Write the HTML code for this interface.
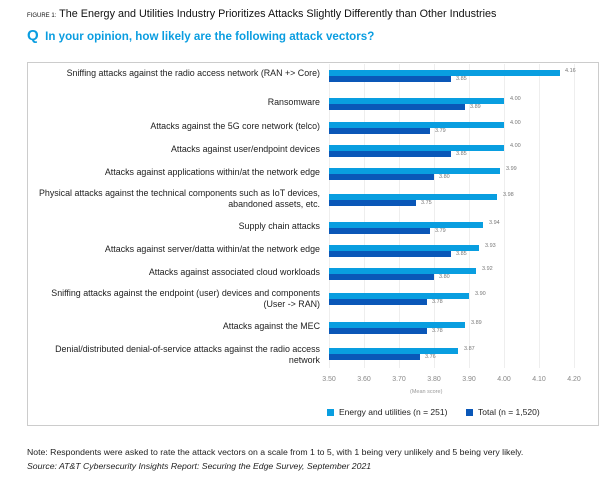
<!DOCTYPE html>
<html><head><style>
body{margin:0;width:616px;height:480px;background:#fff;font-family:"Liberation Sans",sans-serif;position:relative;overflow:hidden}
.a{position:absolute;white-space:nowrap}
.l{position:absolute;right:296px;text-align:right;font-size:8.9px;color:#222;line-height:11px}
.b1{position:absolute;left:329px;height:6px;background:#099ee0}
.b2{position:absolute;left:329px;height:6px;background:#0a57b8}
.v{position:absolute;font-size:5.5px;color:#777}
.g{position:absolute;top:64px;height:304px;width:1px;background:#eee}
.t{position:absolute;top:376px;font-size:7px;color:#888;width:30px;margin-left:-15px;text-align:center}
</style></head><body>
<div class="a" style="left:27px;top:8px;font-size:10.8px;color:#111"><span style="font-size:6px">FIGURE 1:</span> The Energy and Utilities Industry Prioritizes Attacks Slightly Differently than Other Industries</div>
<div class="a" style="left:27px;top:27px;font-size:11.6px;color:#0a9de0;font-weight:bold"><span style="font-size:15px">Q</span>&nbsp; In your opinion, how likely are the following attack vectors?</div>
<div class="a" style="left:27px;top:62px;width:570px;height:362px;border:1px solid #ccc"></div>
<div class="g" style="left:329px"></div><div class="g" style="left:364px"></div><div class="g" style="left:399px"></div><div class="g" style="left:434px"></div><div class="g" style="left:469px"></div><div class="g" style="left:504px"></div><div class="g" style="left:539px"></div><div class="g" style="left:574px"></div>

<div class="l" style="top:68px">Sniffing attacks against the radio access network (RAN +&gt; Core)</div>
<div class="b1" style="top:70px;width:231px"></div><div class="b2" style="top:76px;width:122px"></div>
<div class="v" style="left:565px;top:68px">4.16</div><div class="v" style="left:456px;top:76px">3.85</div>

<div class="l" style="top:97px">Ransomware</div>
<div class="b1" style="top:98px;width:175px"></div><div class="b2" style="top:104px;width:136px"></div>
<div class="v" style="left:510px;top:96px">4.00</div><div class="v" style="left:470px;top:104px">3.89</div>

<div class="l" style="top:121px">Attacks against the 5G core network (telco)</div>
<div class="b1" style="top:122px;width:175px"></div><div class="b2" style="top:128px;width:101px"></div>
<div class="v" style="left:510px;top:120px">4.00</div><div class="v" style="left:435px;top:128px">3.79</div>

<div class="l" style="top:144px">Attacks against user/endpoint devices</div>
<div class="b1" style="top:145px;width:175px"></div><div class="b2" style="top:151px;width:122px"></div>
<div class="v" style="left:510px;top:143px">4.00</div><div class="v" style="left:456px;top:151px">3.85</div>

<div class="l" style="top:167px">Attacks against applications within/at the network edge</div>
<div class="b1" style="top:168px;width:171px"></div><div class="b2" style="top:174px;width:105px"></div>
<div class="v" style="left:506px;top:166px">3.99</div><div class="v" style="left:439px;top:174px">3.80</div>

<div class="l" style="top:188px">Physical attacks against the technical components such as IoT devices,<br>abandoned assets, etc.</div>
<div class="b1" style="top:194px;width:168px"></div><div class="b2" style="top:200px;width:87px"></div>
<div class="v" style="left:503px;top:192px">3.98</div><div class="v" style="left:421px;top:200px">3.75</div>

<div class="l" style="top:221px">Supply chain attacks</div>
<div class="b1" style="top:222px;width:154px"></div><div class="b2" style="top:228px;width:101px"></div>
<div class="v" style="left:489px;top:220px">3.94</div><div class="v" style="left:435px;top:228px">3.79</div>

<div class="l" style="top:244px">Attacks against server/datta within/at the network edge</div>
<div class="b1" style="top:245px;width:150px"></div><div class="b2" style="top:251px;width:122px"></div>
<div class="v" style="left:485px;top:243px">3.93</div><div class="v" style="left:456px;top:251px">3.85</div>

<div class="l" style="top:267px">Attacks against associated cloud workloads</div>
<div class="b1" style="top:268px;width:147px"></div><div class="b2" style="top:274px;width:105px"></div>
<div class="v" style="left:482px;top:266px">3.92</div><div class="v" style="left:439px;top:274px">3.80</div>

<div class="l" style="top:288px">Sniffing attacks against the endpoint (user) devices and components<br>(User -&gt; RAN)</div>
<div class="b1" style="top:293px;width:140px"></div><div class="b2" style="top:299px;width:98px"></div>
<div class="v" style="left:475px;top:291px">3.90</div><div class="v" style="left:432px;top:299px">3.78</div>

<div class="l" style="top:321px">Attacks against the MEC</div>
<div class="b1" style="top:322px;width:136px"></div><div class="b2" style="top:328px;width:98px"></div>
<div class="v" style="left:471px;top:320px">3.89</div><div class="v" style="left:432px;top:328px">3.78</div>

<div class="l" style="top:344px">Denial/distributed denial-of-service attacks against the radio access<br>network</div>
<div class="b1" style="top:348px;width:129px"></div><div class="b2" style="top:354px;width:91px"></div>
<div class="v" style="left:464px;top:346px">3.87</div><div class="v" style="left:425px;top:354px">3.76</div>

<div class="t" style="left:329px">3.50</div><div class="t" style="left:364px">3.60</div><div class="t" style="left:399px">3.70</div><div class="t" style="left:434px">3.80</div><div class="t" style="left:469px">3.90</div><div class="t" style="left:504px">4.00</div><div class="t" style="left:539px">4.10</div><div class="t" style="left:574px">4.20</div>
<div class="a" style="left:410px;top:389px;font-size:5.5px;color:#999">(Mean score)</div>

<div class="a" style="left:327px;top:409px;width:7px;height:7px;background:#099ee0"></div>
<div class="a" style="left:339px;top:407px;font-size:8.5px;color:#222">Energy and utilities (n = 251)</div>
<div class="a" style="left:466px;top:409px;width:7px;height:7px;background:#0a57b8"></div>
<div class="a" style="left:478px;top:407px;font-size:8.5px;color:#222">Total (n = 1,520)</div>

<div class="a" style="left:27px;top:447px;font-size:8.7px;color:#222">Note: Respondents were asked to rate the attack vectors on a scale from 1 to 5, with 1 being very unlikely and 5 being very likely.</div>
<div class="a" style="left:27px;top:461px;font-size:8.7px;color:#222;font-style:italic">Source: AT&amp;T Cybersecurity Insights Report: Securing the Edge Survey, September 2021</div>
</body></html>
